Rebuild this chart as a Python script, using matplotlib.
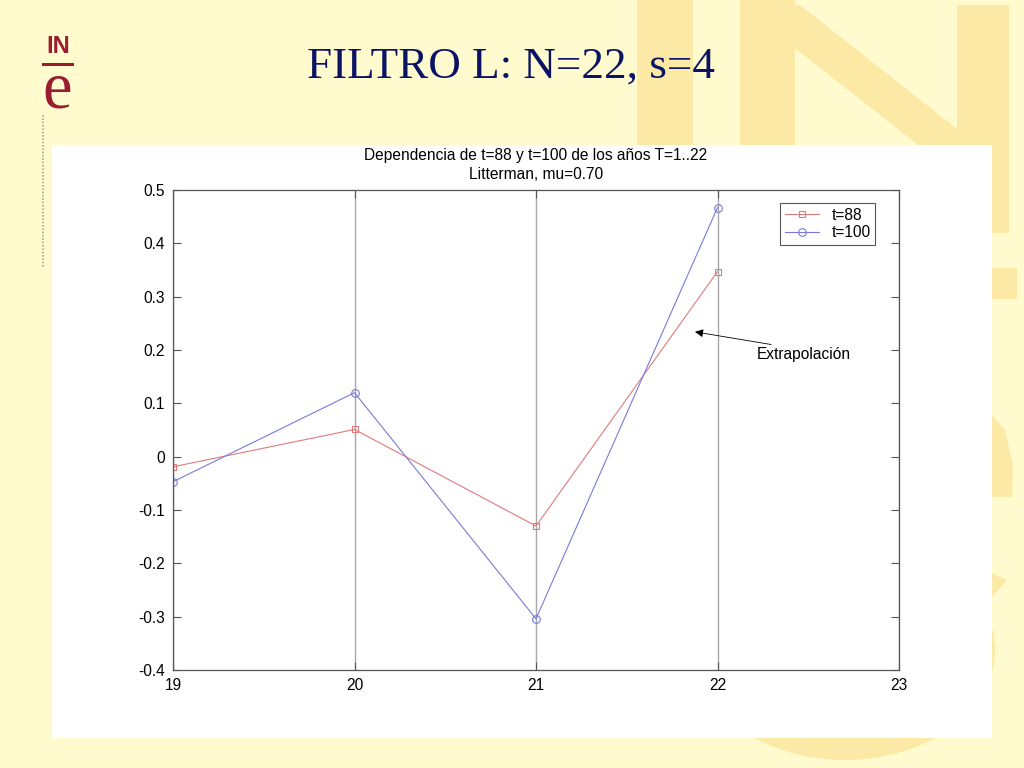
"""FILTRO L slide: dependence of t=88 and t=100 on years T=19..22."""

import matplotlib.pyplot as plt
from matplotlib.patches import Rectangle, Polygon, Ellipse

years = [19, 20, 21, 22]
t88 = [-0.019, 0.051, -0.130, 0.347]
t100 = [-0.047, 0.120, -0.304, 0.467]

slide_title = "FILTRO L: N=22, s=4"
plot_title = "Dependencia de t=88 y t=100 de los años T=1..22\nLitterman, mu=0.70"
x_ticks = [19, 20, 21, 22, 23]
y_ticks = [-0.4, -0.3, -0.2, -0.1, 0, 0.1, 0.2, 0.3, 0.4, 0.5]
y_labels = ["-0.4", "-0.3", "-0.2", "-0.1", "0", "0.1", "0.2", "0.3", "0.4", "0.5"]

BG = "#fffbcf"
WM = "#fde9a6"
W, H = 1024, 768
FS = 11.2

plt.rcParams["font.family"] = ["Liberation Sans", "DejaVu Sans"]

fig = plt.figure(figsize=(W / 100, H / 100), dpi=100)
fig.patch.set_facecolor(BG)


def px(x, y):
    # pixel coords (top-left origin) -> figure fraction
    return x / W, 1 - y / H


def rect(x0, y0, x1, y1, color, z=0):
    fig.patches.append(Rectangle(px(x0, y1), (x1 - x0) / W, (y1 - y0) / H,
                                 transform=fig.transFigure, color=color,
                                 zorder=z, lw=0))


# background watermark "INE"
rect(637, 0, 693, 400, WM)
rect(740, 0, 795, 170, WM)
rect(957, 5, 1009, 233, WM)
fig.patches.append(Polygon([px(740, 5), px(800, 5), px(1009, 170), px(950, 170)],
                           closed=True, transform=fig.transFigure, color=WM,
                           zorder=0, lw=0))
rect(990, 268, 1017, 299, WM)
fig.patches.append(Polygon([px(985, 407), px(1005, 430), px(1013, 465),
                            px(1012, 497), px(985, 497)],
                           closed=True, transform=fig.transFigure, color=WM,
                           zorder=0, lw=0))
fig.patches.append(Polygon([px(985, 570), px(1007, 580), px(985, 605)],
                           closed=True, transform=fig.transFigure, color=WM,
                           zorder=0, lw=0))
fig.patches.append(Ellipse(px(845, 650), 300 / W, 220 / H,
                           transform=fig.transFigure, color=WM, lw=0, zorder=0))

# white panel behind the plot
rect(52, 145, 992, 738, "white", z=1)

# INE logo
fig.text(*px(58, 53), "IN", color="#9b1b30", fontsize=17, fontweight="bold",
         ha="center", va="baseline")
fig.patches.append(Rectangle(px(42, 66), 32 / W, 2.5 / H,
                             transform=fig.transFigure, color="#9b1b30", lw=0))
fig.text(*px(57, 108), "e", color="#9b1b30", fontsize=48,
         family="Liberation Serif", ha="center", va="baseline")
fig.lines.append(plt.Line2D([43 / W, 43 / W], [1 - 115 / H, 1 - 268 / H],
                            transform=fig.transFigure, color="#b0a890",
                            lw=1.2, ls=(0, (1, 1))))

# slide title
fig.text(*px(511, 67), slide_title, color="#0b1464", fontsize=32.5,
         family="Liberation Serif", ha="center", va="center")

ax = fig.add_axes([173 / W, 1 - 670 / H, (899 - 173) / W, (670 - 190) / H])
ax.set_zorder(2)
ax.set_facecolor("white")

ax.plot(years, t88, color="#e07a7a", lw=0.8, marker="s", ms=5,
        mfc="none", mew=0.8, label="t=88")
ax.plot(years, t100, color="#7a7ad8", lw=0.8, marker="o", ms=5.5,
        mfc="none", mew=0.8, label="t=100")

ax.set_xlim(19, 23)
ax.set_ylim(-0.4, 0.5)
ax.set_xticks(x_ticks)
ax.set_xticklabels([str(v) for v in x_ticks])
ax.set_yticks(y_ticks)
ax.set_yticklabels(y_labels)
ax.xaxis.grid(True, color="#a8a8a8", lw=1)
ax.yaxis.grid(False)
ax.tick_params(direction="in", top=True, right=True, length=6,
               labelsize=FS, color="#555555", pad=6)
for s in ax.spines.values():
    s.set_color("#555555")
    s.set_linewidth(0.9)

ax.set_title(plot_title, fontsize=FS, pad=8, linespacing=1.3)

leg = ax.legend(loc="upper right", bbox_to_anchor=(0.967, 0.973), fontsize=FS,
                fancybox=False, framealpha=1, edgecolor="#555555",
                handlelength=2.2, borderpad=0.3, labelspacing=0.15,
                borderaxespad=0)
leg.get_frame().set_linewidth(0.8)

ax.annotate("Extrapolación", xy=(21.876, 0.234), xytext=(22.217, 0.191),
            fontsize=FS, va="center", ha="left",
            arrowprops=dict(arrowstyle="-|>", color="black", lw=0.6,
                            shrinkA=0, shrinkB=0, mutation_scale=12,
                            relpos=(0.33, 1.0)))

fig.savefig("out.png", dpi=100, facecolor=BG)
